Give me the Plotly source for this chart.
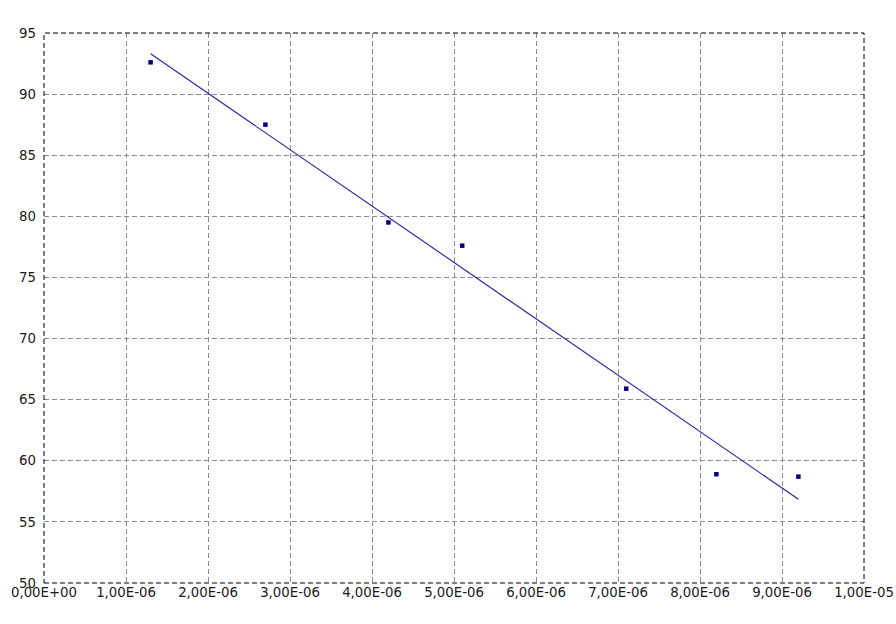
import plotly.graph_objects as go

x_values = [1.3e-6, 2.7e-6, 4.2e-6, 5.1e-6, 7.1e-6, 8.2e-6, 9.2e-6]
y_values = [92.6, 87.5, 79.5, 77.6, 65.9, 58.9, 58.7]

fit_x = [1.3e-6, 9.2e-6]
fit_y = [93.3, 56.85]

x_tickvals = [0, 1e-6, 2e-6, 3e-6, 4e-6, 5e-6, 6e-6, 7e-6, 8e-6, 9e-6, 1e-5]
x_ticktext = ["0,00E+00", "1,00E-06", "2,00E-06", "3,00E-06", "4,00E-06", "5,00E-06",
              "6,00E-06", "7,00E-06", "8,00E-06", "9,00E-06", "1,00E-05"]
y_tickvals = [50, 55, 60, 65, 70, 75, 80, 85, 90, 95]

fig = go.Figure()
fig.add_trace(go.Scatter(x=fit_x, y=fit_y, mode="lines",
                         line=dict(color="#2a2aa8", width=1.2), showlegend=False,
                         hoverinfo="skip"))
fig.add_trace(go.Scatter(x=x_values, y=y_values, mode="markers",
                         marker=dict(color="#000080", size=4.5, symbol="square"),
                         showlegend=False))

axis_common = dict(showgrid=True, gridcolor="#8c8c8c", griddash="5px,3px", gridwidth=1,
                   zeroline=False, showline=False, ticks="", automargin=False,
                   ticklabeloverflow="allow",
                   tickfont=dict(family="DejaVu Sans", size=13.3, color="#1a1a1a"))

fig.update_xaxes(range=[0, 1e-5], tickvals=x_tickvals, ticktext=x_ticktext,
                 ticklabelstandoff=0, **axis_common)
fig.update_yaxes(range=[50, 95], tickvals=y_tickvals, ticklabelstandoff=7, **axis_common)

fig.add_shape(type="rect", xref="paper", yref="paper", x0=0, y0=0, x1=1, y1=1,
              line=dict(color="black", width=1, dash="5px,3px"), layer="above")

fig.update_layout(width=896, height=624, margin=dict(l=44, r=32, t=33, b=41),
                  plot_bgcolor="white", paper_bgcolor="white")

fig.write_html("out.html", config={"displayModeBar": False},
               post_script="document.body.style.margin='0';document.body.style.overflow='hidden';")
